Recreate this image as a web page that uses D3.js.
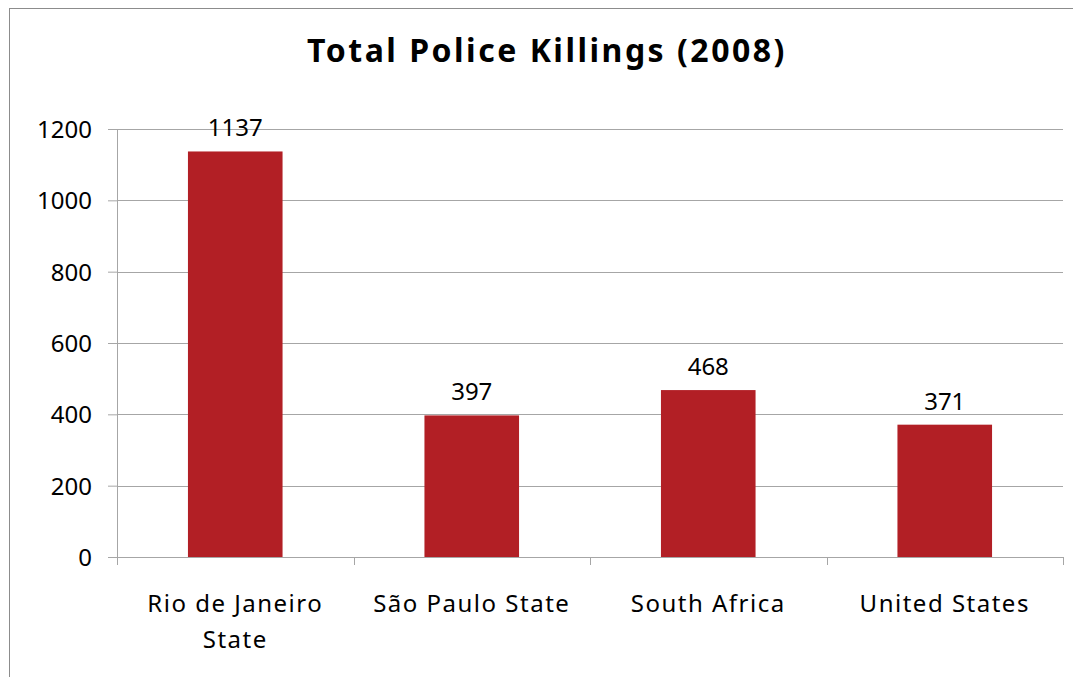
<!DOCTYPE html>
<html>
<head>
<meta charset="utf-8">
<script src="https://cdn.jsdelivr.net/npm/d3@7"></script>
<style>
  body { margin: 0; background: #fff; }
  text { font-family: "Noto Sans", "Open Sans", sans-serif; fill: #000; }
</style>
</head>
<body>
<script>
// data
var categories = ["Rio de Janeiro State", "São Paulo State", "South Africa", "United States"];
var killings = [1137, 397, 468, 371];
var yTicks = [0, 200, 400, 600, 800, 1000, 1200];
var title = "Total Police Killings (2008)";

var W = 1073, H = 677;
var margin = {top: 129, right: 10, bottom: 120, left: 117},
    width = 1063 - margin.left,
    height = 557 - margin.top;

var svg = d3.select("body").append("svg")
    .attr("width", W)
    .attr("height", H);

// outer chart border
svg.append("rect")
    .attr("x", 9.5).attr("y", 8.5)
    .attr("width", 1100).attr("height", 700)
    .attr("fill", "none")
    .attr("stroke", "#8c8c8c")
    .attr("stroke-width", 1);

svg.append("text")
    .attr("x", 547).attr("y", 62)
    .attr("text-anchor", "middle")
    .style("font-size", "32px")
    .style("font-weight", "bold")
    .style("letter-spacing", "2.5px")
    .text(title);

var g = svg.append("g")
    .attr("transform", "translate(" + margin.left + "," + margin.top + ")");

var x = d3.scaleBand().domain(categories).range([0, width]).paddingInner(0.6).paddingOuter(0.3);
var xb = d3.scaleBand().domain(categories).range([0, width]);
var y = d3.scaleLinear().domain([0, 1200]).range([height, 0]);

// gridlines
g.selectAll(".grid").data(yTicks.slice(1))
  .enter().append("line")
    .attr("x1", 0).attr("x2", width)
    .attr("y1", function(d) { return Math.round(y(d)) + 0.5; })
    .attr("y2", function(d) { return Math.round(y(d)) + 0.5; })
    .attr("stroke", "#a6a6a6");

// y axis
var yAxis = g.append("g")
    .call(d3.axisLeft(y).tickValues(yTicks).tickFormat(d3.format("d")).tickSize(9).tickPadding(16));
yAxis.select(".domain").attr("stroke", "#a6a6a6");
yAxis.selectAll(".tick line").attr("stroke", "#a6a6a6");
yAxis.selectAll("text")
    .style("font-size", "24px")
    .style("font-family", "'Noto Sans', sans-serif")
    .attr("fill", "#000")
    .attr("dy", "0.35em");

// bars
g.selectAll(".bar").data(killings)
  .enter().append("rect")
    .attr("x", function(d, i) { return x(categories[i]); })
    .attr("width", x.bandwidth())
    .attr("y", function(d) { return y(d); })
    .attr("height", function(d) { return height - y(d); })
    .attr("fill", "#b21f25");

// value labels
g.selectAll(".val").data(killings)
  .enter().append("text")
    .attr("x", function(d, i) { return x(categories[i]) + x.bandwidth() / 2; })
    .attr("y", function(d) { return y(d) - 15; })
    .attr("text-anchor", "middle")
    .style("font-size", "24px")
    .text(function(d) { return d; });

// x axis: line plus ticks at the band edges
var xAxis = g.append("g").attr("transform", "translate(0," + height + ")");
xAxis.append("line")
    .attr("x1", 0).attr("x2", width)
    .attr("y1", 0.5).attr("y2", 0.5)
    .attr("stroke", "#a6a6a6");
var edges = categories.map(function(c) { return xb(c); }).concat([width]);
xAxis.selectAll(".xt").data(edges)
  .enter().append("line")
    .attr("x1", function(d) { return Math.round(d) + 0.5; })
    .attr("x2", function(d) { return Math.round(d) + 0.5; })
    .attr("y1", 0).attr("y2", 8)
    .attr("stroke", "#a6a6a6");

// category labels, wrapped like the original
var labels = xAxis.selectAll(".cat").data(categories)
  .enter().append("text")
    .attr("x", function(d) { return xb(d) + xb.bandwidth() / 2; })
    .attr("y", 55)
    .attr("text-anchor", "middle")
    .style("font-size", "24px")
    .style("letter-spacing", "1.5px");

labels.each(function(d) {
  var t = d3.select(this);
  var words = d.split(" "), line = [];
  var tspan = t.append("tspan").attr("x", t.attr("x")).attr("dy", 0);
  words.forEach(function(w) {
    line.push(w);
    tspan.text(line.join(" "));
    if (tspan.node().getComputedTextLength() > 215 && line.length > 1) {
      line.pop();
      tspan.text(line.join(" "));
      line = [w];
      tspan = t.append("tspan").attr("x", t.attr("x")).attr("dy", "36px").text(w);
    }
  });
});
</script>
</body>
</html>
